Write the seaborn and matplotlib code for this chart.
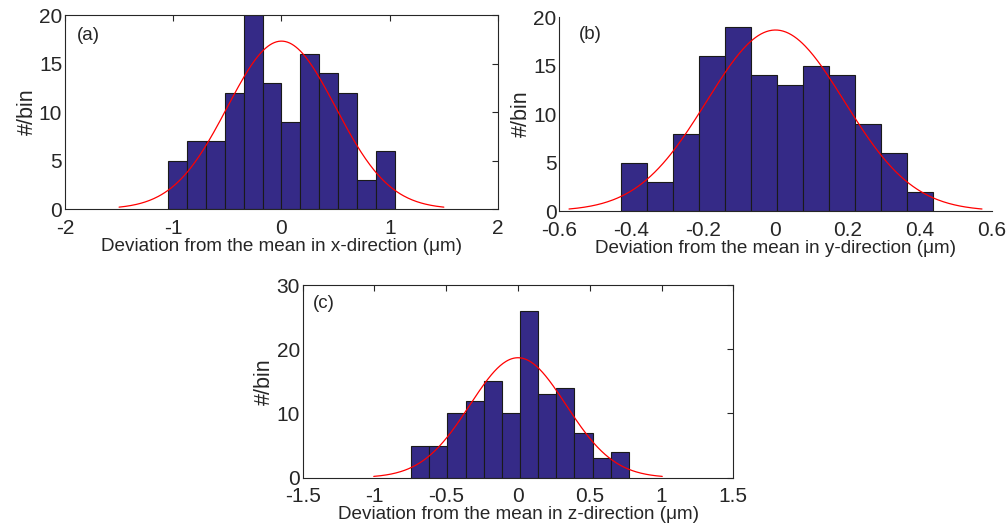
import numpy as np
import pandas as pd
import matplotlib
matplotlib.use("Agg")
import matplotlib.pyplot as plt
import seaborn as sns

# histogram counts (12 bins each)
counts_x = [5, 7, 7, 12, 20, 13, 9, 16, 14, 12, 3, 6]
counts_y = [5, 3, 8, 16, 19, 14, 13, 15, 14, 9, 6, 2]
counts_z = [5, 5, 10, 12, 15, 10, 26, 13, 14, 7, 3, 4]

# bin ranges (first edge, last edge) in um
range_x = (-1.05, 1.05)
range_y = (-0.430, 0.436)
range_z = (-0.745, 0.773)

# gaussian fit widths (mean 0)
sigma_x = 0.50
sigma_y = 0.191
sigma_z = 0.335

xlim_x, xticks_x = (-2, 2), [-2, -1, 0, 1, 2]
xlim_y, xticks_y = (-0.6, 0.6), [-0.6, -0.4, -0.2, 0, 0.2, 0.4, 0.6]
xlim_z, xticks_z = (-1.5, 1.5), [-1.5, -1, -0.5, 0, 0.5, 1, 1.5]
ylim_x, yticks_x = (0, 20), [0, 5, 10, 15, 20]
ylim_y, yticks_y = (0, 20), [0, 5, 10, 15, 20]
ylim_z, yticks_z = (0, 30), [0, 10, 20, 30]

labels = ["(a)", "(b)", "(c)"]
xlabels = ["Deviation from the mean in x-direction (\u03bcm)",
           "Deviation from the mean in y-direction (\u03bcm)",
           "Deviation from the mean in z-direction (\u03bcm)"]

sns.set_style("white")
plt.rcParams["font.family"] = ["Liberation Sans", "DejaVu Sans"]
plt.rcParams["xtick.direction"] = "in"
plt.rcParams["ytick.direction"] = "in"

BAR = "#352a87"
INK = "#262626"

fig = plt.figure(figsize=(10.07, 5.27), dpi=100)
positions = [
    [0.0645, 0.6034, 0.4300, 0.3680],
    [0.5554, 0.5996, 0.4294, 0.3675],
    [0.3006, 0.0935, 0.4276, 0.3657],
]
tag_pos = [(0.028, 0.897), (0.046, 0.909), (0.023, 0.905)]
panels = [
    (counts_x, range_x, sigma_x, xlim_x, xticks_x, ylim_x, yticks_x, True),
    (counts_y, range_y, sigma_y, xlim_y, xticks_y, ylim_y, yticks_y, False),
    (counts_z, range_z, sigma_z, xlim_z, xticks_z, ylim_z, yticks_z, True),
]

for i, (counts, rng, sigma, xlim, xticks, ylim, yticks, box) in enumerate(panels):
    ax = fig.add_axes(positions[i])
    nbins = len(counts)
    width = (rng[1] - rng[0]) / nbins
    centers = rng[0] + width * (np.arange(nbins) + 0.5)
    df = pd.DataFrame({"x": centers, "n": counts})
    sns.histplot(data=df, x="x", weights="n", bins=nbins, binrange=rng, ax=ax,
                 color=BAR, alpha=1, edgecolor="#1a1a1a", linewidth=0.8)

    # scaled normal fit, drawn over +-3 sigma
    amp = sum(counts) * width / (sigma * np.sqrt(2 * np.pi))
    xs = np.linspace(-3 * sigma, 3 * sigma, 300)
    ax.plot(xs, amp * np.exp(-xs ** 2 / (2 * sigma ** 2)),
            color="red", linewidth=0.9)

    ax.set_xlim(*xlim)
    ax.set_ylim(*ylim)
    ax.set_xticks(xticks)
    ax.set_yticks(yticks)
    ax.set_xticklabels([f"{t:g}" for t in xticks])
    ax.tick_params(labelsize=15, colors=INK, length=4, width=0.8,
                   top=box, right=box)
    ax.tick_params(axis="x", pad=7)
    ax.tick_params(axis="y", pad=2)
    ax.set_xlabel(xlabels[i], fontsize=13.6, color=INK, labelpad=0)
    ax.set_ylabel("#/bin", fontsize=15.5, color=INK, labelpad=1)
    for side, sp in ax.spines.items():
        sp.set_color(INK)
        sp.set_linewidth(0.8)
        if not box and side in ("top", "right"):
            sp.set_visible(False)
    ax.text(tag_pos[i][0], tag_pos[i][1], labels[i], transform=ax.transAxes,
            fontsize=13.5, color=INK, ha="left", va="center")

fig.savefig("out.png", dpi=100)
